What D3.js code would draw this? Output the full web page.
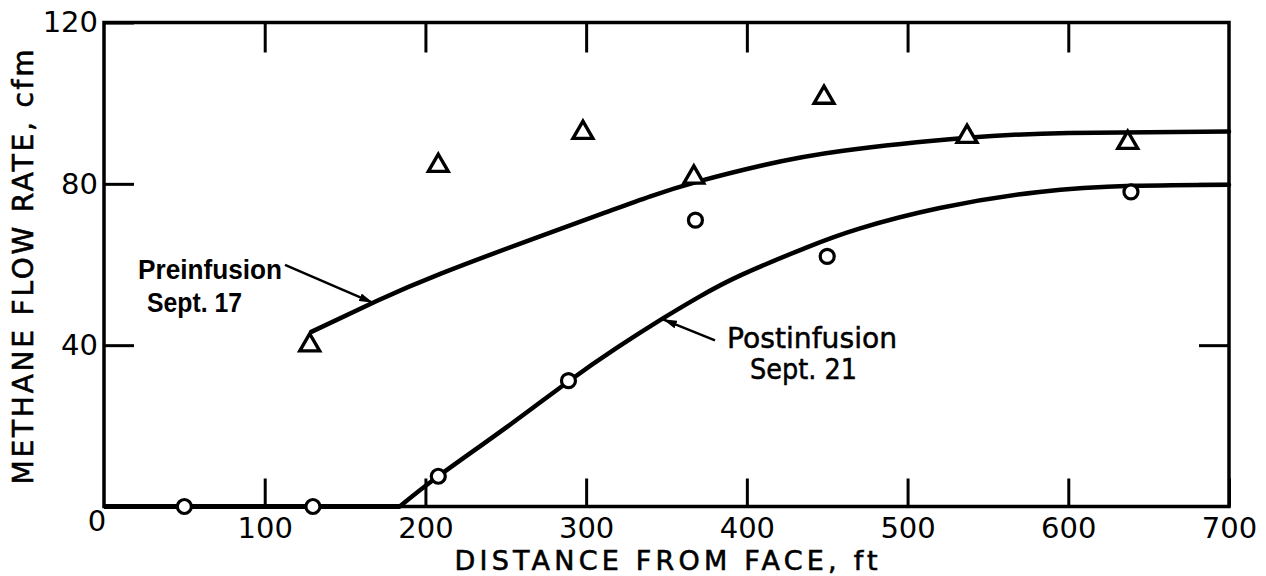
<!DOCTYPE html>
<html>
<head>
<meta charset="utf-8">
<script src="https://cdn.jsdelivr.net/npm/d3@7"></script>
<style>
  body { margin: 0; background: #fff; }
  svg { display: block; }
  text { font-family: "DejaVu Sans", sans-serif; fill: #000; }
</style>
</head>
<body>
<div id="chart"></div>
<script>
// measured points
const preDist = [128, 208, 298, 367, 448, 537, 637];
const preFlow = [40, 84.5, 92.7, 81.6, 101.4, 91.7, 90.2];
const postDist = [50, 130, 208, 289, 368, 450, 639];
const postFlow = [0, 0, 7.5, 31.2, 71, 62, 78];

// hand-drawn fit curves
const preFit = [[129, 43.3], [170, 51], [210, 57.8], [270, 66.8], [310, 72.6], [340, 76.9],
  [370, 80.6], [410, 84.6], [460, 88.2], [537, 91.4], [600, 92.6], [700, 93]];
const postFlat = [[0, 0], [184, 0]];
const postFit = [[184, 0], [208, 7.5], [251, 19.8], [289, 31], [319, 39.3], [346, 46.2],
  [370, 51.9], [396, 57.3], [437, 64.2], [470, 68.9], [520, 74], [582, 78], [640, 79.5], [700, 79.8]];

const xTicks = [100, 200, 300, 400, 500, 600, 700];
const yTicks = [40, 80, 120];

const svgWidth = 1266;
const svgHeight = 576;

const svg = d3.select("#chart").append("svg")
  .attr("width", svgWidth)
  .attr("height", svgHeight);

const x = d3.scaleLinear().domain([0, 700]).range([104, 1229]);
const y = d3.scaleLinear().domain([0, 120]).range([506.5, 22.5]);

// inward ticks on all four sides
const styleAxis = (g) => {
  g.select(".domain").remove();
  g.selectAll("line").attr("stroke", "#000").attr("stroke-width", 3);
  g.selectAll("text").style("font-size", "29px").attr("font-family", "DejaVu Sans");
};

svg.append("g")
  .attr("transform", `translate(0,${y(0)})`)
  .call(d3.axisBottom(x).tickValues(xTicks).tickSize(-28).tickPadding(11))
  .call(styleAxis);

svg.append("g")
  .attr("transform", `translate(0,${y(120)})`)
  .call(d3.axisTop(x).tickValues(xTicks.slice(0, -1)).tickSize(-30).tickFormat(""))
  .call(styleAxis);

svg.append("g")
  .attr("transform", `translate(${x(0)},0)`)
  .call(d3.axisLeft(y).tickValues(yTicks).tickSize(-30).tickPadding(6))
  .call(styleAxis);

svg.append("g")
  .attr("transform", `translate(${x(700)},0)`)
  .call(d3.axisRight(y).tickValues(yTicks.slice(0, -1)).tickSize(-30).tickFormat(""))
  .call(styleAxis);

// shared origin label
svg.append("text")
  .attr("x", x(0) - 7)
  .attr("y", y(0) + 24)
  .attr("text-anchor", "middle")
  .style("font-size", "29px")
  .text("0");

// frame
svg.append("rect")
  .attr("x", x(0))
  .attr("y", y(120))
  .attr("width", x(700) - x(0))
  .attr("height", y(0) - y(120))
  .attr("fill", "none")
  .attr("stroke", "#000")
  .attr("stroke-width", 3.5);

// axis titles
svg.append("text")
  .attr("x", 666)
  .attr("y", 569.5)
  .attr("text-anchor", "middle")
  .attr("textLength", 423)
  .attr("lengthAdjust", "spacing")
  .style("font-size", "27px")
  .style("stroke", "#000")
  .style("stroke-width", 0.6)
  .text("DISTANCE FROM FACE, ft");

svg.append("text")
  .attr("transform", `translate(33,${267}) rotate(-90)`)
  .attr("text-anchor", "middle")
  .attr("textLength", 435)
  .attr("lengthAdjust", "spacing")
  .style("font-size", "28px")
  .style("stroke", "#000")
  .style("stroke-width", 0.6)
  .text("METHANE FLOW RATE, cfm");

// fit curves
const line = d3.line()
  .x(d => x(d[0]))
  .y(d => y(d[1]))
  .curve(d3.curveNatural);

[preFit, postFit].forEach(pts => {
  svg.append("path")
    .attr("d", line(pts))
    .attr("fill", "none")
    .attr("stroke", "#000")
    .attr("stroke-width", 4.5)
    .attr("stroke-linecap", "round");
});
svg.append("path")
  .attr("d", d3.line().x(d => x(d[0])).y(d => y(d[1]))(postFlat))
  .attr("fill", "none")
  .attr("stroke", "#000")
  .attr("stroke-width", 5);

// markers
svg.selectAll(".tri")
  .data(preDist.map((d, i) => [d, preFlow[i]]))
  .enter()
  .append("path")
  .attr("class", "tri")
  .attr("transform", d => `translate(${x(d[0])},${y(d[1])})`)
  .attr("d", d3.symbol().type(d3.symbolTriangle).size(170))
  .attr("fill", "#fff")
  .attr("stroke", "#000")
  .attr("stroke-width", 3.4)
  .attr("stroke-linejoin", "miter");

svg.selectAll(".circ")
  .data(postDist.map((d, i) => [d, postFlow[i]]))
  .enter()
  .append("circle")
  .attr("class", "circ")
  .attr("cx", d => x(d[0]))
  .attr("cy", d => y(d[1]))
  .attr("r", 7)
  .attr("fill", "#fff")
  .attr("stroke", "#000")
  .attr("stroke-width", 3.2);

// annotations
svg.append("defs").append("marker")
  .attr("id", "arrow")
  .attr("viewBox", "0 0 14 8")
  .attr("refX", 14)
  .attr("refY", 4)
  .attr("markerWidth", 14)
  .attr("markerHeight", 8)
  .attr("markerUnits", "userSpaceOnUse")
  .attr("orient", "auto")
  .append("path")
  .attr("d", "M0,0 L14,4 L0,8 Z")
  .attr("fill", "#000");

const arrows = [
  { from: [112.6, 59.9], to: [167.4, 50.5] },
  { from: [380.2, 41.2], to: [347.8, 46.4] }
];
arrows.forEach(a => {
  svg.append("line")
    .attr("x1", x(a.from[0])).attr("y1", y(a.from[1]))
    .attr("x2", x(a.to[0])).attr("y2", y(a.to[1]))
    .attr("stroke", "#000")
    .attr("stroke-width", 2.5)
    .attr("marker-end", "url(#arrow)");
});

const labels = [
  { text: "Preinfusion", at: [21.2, 56.3], len: 144, bold: true },
  { text: "Sept. 17", at: [26.8, 48.1], len: 95, bold: true },
  { text: "Postinfusion", at: [387.7, 39.4], len: 170, bold: false },
  { text: "Sept. 21", at: [402, 31.5], len: 107, bold: false }
];
labels.forEach(l => {
  svg.append("text")
    .attr("x", x(l.at[0]))
    .attr("y", y(l.at[1]))
    .attr("textLength", l.len)
    .attr("lengthAdjust", "spacingAndGlyphs")
    .style("font-family", l.bold ? "'Liberation Sans', Arial, sans-serif" : "'DejaVu Sans', sans-serif")
    .style("font-weight", l.bold ? "bold" : "normal")
    .style("font-size", l.bold ? "27px" : "28px")
    .style("stroke", l.bold ? "none" : "#000")
    .style("stroke-width", 0.5)
    .text(l.text);
});
</script>
</body>
</html>
